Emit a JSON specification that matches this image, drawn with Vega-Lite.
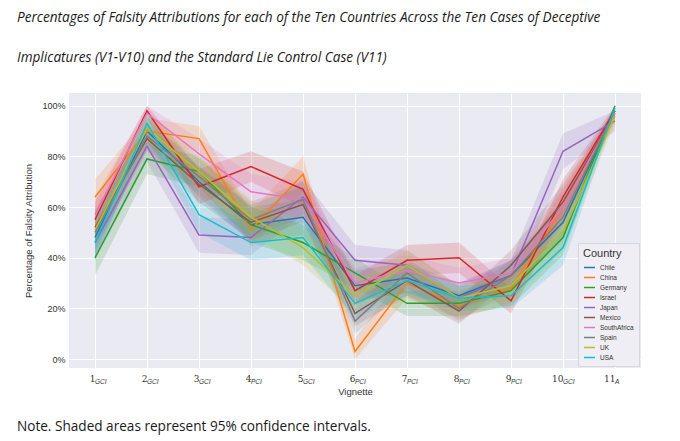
{
  "$schema": "https://vega.github.io/schema/vega-lite/v6.json",
  "background": "white",
  "padding": {"left": 16, "top": 11, "right": 5, "bottom": 5},
  "title": {
    "text": ["Percentages of Falsity Attributions for each of the Ten Countries Across the Ten Cases of Deceptive", "Implicatures (V1-V10) and the Standard Lie Control Case (V11)"],
    "anchor": "start", "frame": "bounds", "font": "Open Sans", "fontStyle": "italic", "fontWeight": "normal",
    "fontSize": 13.6, "lineHeight": 40, "color": "#1a1a1a", "dx": 0, "offset": 28
  },
  "config": {
    "axis": {"domain": false, "ticks": false, "grid": true, "gridColor": "white", "gridWidth": 1,
      "labelColor": "#333", "titleColor": "#333", "titleFontWeight": "normal", "labelFont": "Liberation Sans", "titleFont": "Liberation Sans"},
    "legend": {"labelFont": "Liberation Sans", "titleFont": "Liberation Sans"}
  },
  "resolve": {"scale": {"color": "independent"}, "legend": {"color": "independent"}},
  "datasets": {
    "main": [
      {"country":"Chile","vignette":1,"pct":48,"lo":41,"hi":55},{"country":"Chile","vignette":2,"pct":90,"lo":85,"hi":95},{"country":"Chile","vignette":3,"pct":70,"lo":64,"hi":76},{"country":"Chile","vignette":4,"pct":53,"lo":46,"hi":60},{"country":"Chile","vignette":5,"pct":56,"lo":49,"hi":63},{"country":"Chile","vignette":6,"pct":29,"lo":23,"hi":35},{"country":"Chile","vignette":7,"pct":32,"lo":26,"hi":38},{"country":"Chile","vignette":8,"pct":25,"lo":20,"hi":30},{"country":"Chile","vignette":9,"pct":33,"lo":27,"hi":39},{"country":"Chile","vignette":10,"pct":54,"lo":47,"hi":61},{"country":"Chile","vignette":11,"pct":98,"lo":96,"hi":100},
      {"country":"China","vignette":1,"pct":64,"lo":57,"hi":71},{"country":"China","vignette":2,"pct":90,"lo":85,"hi":95},{"country":"China","vignette":3,"pct":87,"lo":82,"hi":92},{"country":"China","vignette":4,"pct":51,"lo":44,"hi":58},{"country":"China","vignette":5,"pct":73,"lo":66,"hi":80},{"country":"China","vignette":6,"pct":3,"lo":0,"hi":8},{"country":"China","vignette":7,"pct":30,"lo":24,"hi":36},{"country":"China","vignette":8,"pct":21,"lo":16,"hi":26},{"country":"China","vignette":9,"pct":28,"lo":22,"hi":34},{"country":"China","vignette":10,"pct":60,"lo":53,"hi":67},{"country":"China","vignette":11,"pct":96,"lo":93,"hi":99},
      {"country":"Germany","vignette":1,"pct":40,"lo":33,"hi":47},{"country":"Germany","vignette":2,"pct":79,"lo":73,"hi":85},{"country":"Germany","vignette":3,"pct":74,"lo":68,"hi":80},{"country":"Germany","vignette":4,"pct":53,"lo":46,"hi":60},{"country":"Germany","vignette":5,"pct":46,"lo":39,"hi":53},{"country":"Germany","vignette":6,"pct":34,"lo":28,"hi":40},{"country":"Germany","vignette":7,"pct":22,"lo":17,"hi":27},{"country":"Germany","vignette":8,"pct":22,"lo":17,"hi":27},{"country":"Germany","vignette":9,"pct":27,"lo":21,"hi":33},{"country":"Germany","vignette":10,"pct":48,"lo":41,"hi":55},{"country":"Germany","vignette":11,"pct":100,"lo":99,"hi":100},
      {"country":"Israel","vignette":1,"pct":55,"lo":48,"hi":62},{"country":"Israel","vignette":2,"pct":98,"lo":95,"hi":100},{"country":"Israel","vignette":3,"pct":68,"lo":61,"hi":75},{"country":"Israel","vignette":4,"pct":76,"lo":70,"hi":82},{"country":"Israel","vignette":5,"pct":67,"lo":60,"hi":74},{"country":"Israel","vignette":6,"pct":27,"lo":21,"hi":33},{"country":"Israel","vignette":7,"pct":39,"lo":33,"hi":45},{"country":"Israel","vignette":8,"pct":40,"lo":34,"hi":46},{"country":"Israel","vignette":9,"pct":23,"lo":18,"hi":28},{"country":"Israel","vignette":10,"pct":64,"lo":57,"hi":71},{"country":"Israel","vignette":11,"pct":98,"lo":96,"hi":100},
      {"country":"Japan","vignette":1,"pct":46,"lo":39,"hi":53},{"country":"Japan","vignette":2,"pct":84,"lo":78,"hi":90},{"country":"Japan","vignette":3,"pct":49,"lo":42,"hi":56},{"country":"Japan","vignette":4,"pct":48,"lo":41,"hi":55},{"country":"Japan","vignette":5,"pct":64,"lo":57,"hi":71},{"country":"Japan","vignette":6,"pct":39,"lo":33,"hi":45},{"country":"Japan","vignette":7,"pct":37,"lo":31,"hi":43},{"country":"Japan","vignette":8,"pct":24,"lo":19,"hi":29},{"country":"Japan","vignette":9,"pct":33,"lo":27,"hi":39},{"country":"Japan","vignette":10,"pct":82,"lo":75,"hi":89},{"country":"Japan","vignette":11,"pct":94,"lo":90,"hi":98},
      {"country":"Mexico","vignette":1,"pct":52,"lo":45,"hi":59},{"country":"Mexico","vignette":2,"pct":87,"lo":82,"hi":92},{"country":"Mexico","vignette":3,"pct":69,"lo":62,"hi":76},{"country":"Mexico","vignette":4,"pct":54,"lo":47,"hi":61},{"country":"Mexico","vignette":5,"pct":61,"lo":54,"hi":68},{"country":"Mexico","vignette":6,"pct":18,"lo":13,"hi":23},{"country":"Mexico","vignette":7,"pct":31,"lo":25,"hi":37},{"country":"Mexico","vignette":8,"pct":19,"lo":14,"hi":24},{"country":"Mexico","vignette":9,"pct":37,"lo":31,"hi":43},{"country":"Mexico","vignette":10,"pct":62,"lo":55,"hi":69},{"country":"Mexico","vignette":11,"pct":97,"lo":95,"hi":99},
      {"country":"SouthAfrica","vignette":1,"pct":57,"lo":50,"hi":64},{"country":"SouthAfrica","vignette":2,"pct":97,"lo":94,"hi":100},{"country":"SouthAfrica","vignette":3,"pct":81,"lo":75,"hi":87},{"country":"SouthAfrica","vignette":4,"pct":66,"lo":59,"hi":73},{"country":"SouthAfrica","vignette":5,"pct":63,"lo":56,"hi":70},{"country":"SouthAfrica","vignette":6,"pct":30,"lo":24,"hi":36},{"country":"SouthAfrica","vignette":7,"pct":35,"lo":29,"hi":41},{"country":"SouthAfrica","vignette":8,"pct":30,"lo":24,"hi":36},{"country":"SouthAfrica","vignette":9,"pct":34,"lo":28,"hi":40},{"country":"SouthAfrica","vignette":10,"pct":60,"lo":53,"hi":67},{"country":"SouthAfrica","vignette":11,"pct":97,"lo":95,"hi":99},
      {"country":"Spain","vignette":1,"pct":50,"lo":43,"hi":57},{"country":"Spain","vignette":2,"pct":88,"lo":83,"hi":93},{"country":"Spain","vignette":3,"pct":72,"lo":65,"hi":79},{"country":"Spain","vignette":4,"pct":55,"lo":48,"hi":62},{"country":"Spain","vignette":5,"pct":63,"lo":56,"hi":70},{"country":"Spain","vignette":6,"pct":15,"lo":10,"hi":20},{"country":"Spain","vignette":7,"pct":34,"lo":28,"hi":40},{"country":"Spain","vignette":8,"pct":20,"lo":15,"hi":25},{"country":"Spain","vignette":9,"pct":33,"lo":27,"hi":39},{"country":"Spain","vignette":10,"pct":56,"lo":49,"hi":63},{"country":"Spain","vignette":11,"pct":98,"lo":96,"hi":100},
      {"country":"UK","vignette":1,"pct":51,"lo":44,"hi":58},{"country":"UK","vignette":2,"pct":91,"lo":86,"hi":96},{"country":"UK","vignette":3,"pct":74,"lo":68,"hi":80},{"country":"UK","vignette":4,"pct":56,"lo":49,"hi":63},{"country":"UK","vignette":5,"pct":44,"lo":37,"hi":51},{"country":"UK","vignette":6,"pct":25,"lo":19,"hi":31},{"country":"UK","vignette":7,"pct":37,"lo":31,"hi":43},{"country":"UK","vignette":8,"pct":24,"lo":19,"hi":29},{"country":"UK","vignette":9,"pct":29,"lo":23,"hi":35},{"country":"UK","vignette":10,"pct":50,"lo":43,"hi":57},{"country":"UK","vignette":11,"pct":96,"lo":93,"hi":99},
      {"country":"USA","vignette":1,"pct":46,"lo":39,"hi":53},{"country":"USA","vignette":2,"pct":93,"lo":88,"hi":98},{"country":"USA","vignette":3,"pct":57,"lo":50,"hi":64},{"country":"USA","vignette":4,"pct":46,"lo":39,"hi":53},{"country":"USA","vignette":5,"pct":48,"lo":41,"hi":55},{"country":"USA","vignette":6,"pct":22,"lo":16,"hi":28},{"country":"USA","vignette":7,"pct":31,"lo":25,"hi":37},{"country":"USA","vignette":8,"pct":24,"lo":19,"hi":29},{"country":"USA","vignette":9,"pct":25,"lo":20,"hi":30},{"country":"USA","vignette":10,"pct":44,"lo":37,"hi":51},{"country":"USA","vignette":11,"pct":99,"lo":97,"hi":100}
    ],
    "vig": [
      {"vignette":1,"sub":"GCI"},{"vignette":2,"sub":"GCI"},{"vignette":3,"sub":"GCI"},{"vignette":4,"sub":"PCI"},{"vignette":5,"sub":"GCI"},{"vignette":6,"sub":"PCI"},{"vignette":7,"sub":"PCI"},{"vignette":8,"sub":"PCI"},{"vignette":9,"sub":"PCI"},{"vignette":10,"sub":"GCI"},{"vignette":11,"sub":"A"}
    ]
  },
  "vconcat": [
    {
      "width": 572,
      "height": 275,
      "view": {"fill": "#EAEAF2", "stroke": null},
      "title": {"text": "Note. Shaded areas represent 95% confidence intervals.", "orient": "bottom", "anchor": "start", "frame": "bounds",
        "font": "Open Sans", "fontSize": 13.6, "fontWeight": "normal", "color": "#1a1a1a", "dx": -7, "offset": 24},
      "layer": [
        {
          "data": {"name": "main"},
          "mark": {"type": "area", "fillOpacity": 0.18},
          "encoding": {
            "x": {"field": "vignette", "type": "ordinal", "scale": {"type": "point", "padding": 0.5},
              "axis": {"title": "Vignette", "labelAngle": 0, "labelAlign": "right", "labelFont": "DejaVu Serif", "labelFontSize": 9,
                "labelPadding": 6, "titleFontSize": 9.5, "titlePadding": 3}},
            "y": {"field": "lo", "type": "quantitative", "scale": {"domain": [-3.5, 105], "nice": false, "zero": false},
              "axis": {"title": "Percentage of Falsity Attribution", "values": [0, 20, 40, 60, 80, 100], "labelExpr": "datum.value + '%'",
                "labelFontSize": 9, "labelPadding": 4, "titleFontSize": 9.5, "titlePadding": 8}},
            "y2": {"field": "hi"},
            "color": {"field": "country", "type": "nominal",
              "scale": {"domain": ["Chile","China","Germany","Israel","Japan","Mexico","SouthAfrica","Spain","UK","USA"],
                "range": ["#1f77b4","#ff7f0e","#2ca02c","#d62728","#9467bd","#8c564b","#e377c2","#7f7f7f","#bcbd22","#17becf"]}}
          }
        },
        {
          "data": {"name": "main"},
          "mark": {"type": "line", "strokeWidth": 1.5},
          "encoding": {
            "x": {"field": "vignette", "type": "ordinal"},
            "y": {"field": "pct", "type": "quantitative"},
            "color": {"field": "country", "type": "nominal", "title": "Country",
              "legend": {"orient": "bottom-right", "offset": 2, "symbolType": "stroke", "symbolSize": 120, "symbolStrokeWidth": 1.5,
                "symbolOpacity": 1, "labelFontSize": 6.5, "titleFontSize": 11, "titleFontWeight": "normal", "titlePadding": 2, "rowPadding": -2,
                "padding": 5, "fillColor": "#EEEEF4", "strokeColor": "#D6D6DE", "labelColor": "#333", "titleColor": "#333"}}
          }
        },
        {
          "data": {"name": "vig"},
          "mark": {"type": "text", "align": "left", "baseline": "middle", "fontStyle": "italic", "fontSize": 6.5, "font": "Liberation Sans", "color": "#333"},
          "encoding": {
            "x": {"field": "vignette", "type": "ordinal"},
            "y": {"datum": -9},
            "text": {"field": "sub"}
          }
        }
      ]
    }
  ]
}
